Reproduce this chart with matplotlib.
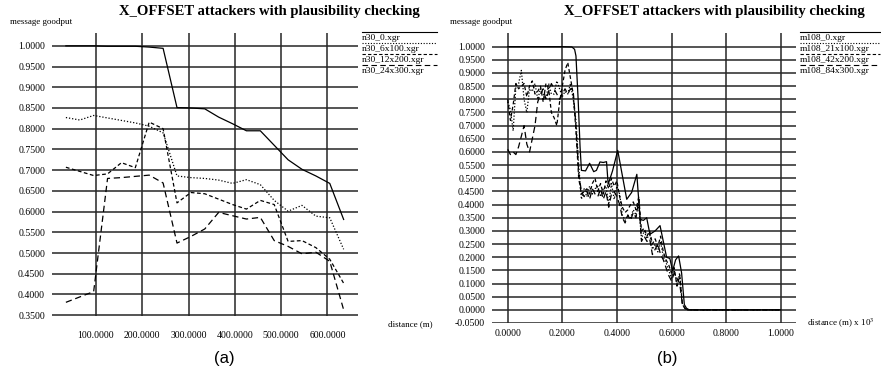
import numpy as np
import matplotlib
matplotlib.use("Agg")
import matplotlib.pyplot as plt
from matplotlib.lines import Line2D

plt.rcParams['font.family'] = ['Liberation Serif', 'DejaVu Serif']
plt.rcParams['mathtext.fontset'] = 'stix'

title = "X_OFFSET attackers with plausibility checking"

# ---- panel (a): n30 runs, distance in m
dist_a = np.arange(35, 636, 30)
n30_0 = [1.000, 1.000, 1.000, 0.999, 0.999, 0.999, 0.997, 0.994, 0.851, 0.850, 0.848,
         0.828, 0.812, 0.795, 0.795, 0.760, 0.725, 0.702, 0.686, 0.668, 0.581]
n30_6x100 = [0.827, 0.821, 0.832, 0.826, 0.820, 0.814, 0.806, 0.790, 0.686, 0.682, 0.680,
             0.676, 0.668, 0.677, 0.665, 0.627, 0.601, 0.615, 0.589, 0.585, 0.509]
n30_12x200 = [0.707, 0.697, 0.687, 0.691, 0.718, 0.706, 0.816, 0.800, 0.621, 0.646, 0.643,
              0.630, 0.617, 0.606, 0.627, 0.617, 0.528, 0.530, 0.513, 0.485, 0.427]
n30_24x300 = [0.381, 0.394, 0.407, 0.680, 0.682, 0.685, 0.688, 0.669, 0.524, 0.540, 0.558,
              0.598, 0.590, 0.582, 0.586, 0.530, 0.516, 0.498, 0.502, 0.480, 0.363]
labels_a = ["n30_0.xgr", "n30_6x100.xgr", "n30_12x200.xgr", "n30_24x300.xgr"]
yticks_a = np.round(np.arange(0.35, 1.001, 0.05), 2)
xticks_a = [100, 200, 300, 400, 500, 600]

# ---- panel (b): m108 runs, distance in km
x_m108_0 = [0.0, 0.05, 0.10, 0.15, 0.20, 0.235, 0.245, 0.25, 0.258, 0.265, 0.27, 0.285,
            0.30, 0.315, 0.325, 0.338, 0.35, 0.362, 0.368, 0.384, 0.403, 0.42, 0.436,
            0.454, 0.473, 0.485, 0.497, 0.509, 0.521, 0.54, 0.558, 0.57, 0.582, 0.594,
            0.604, 0.615, 0.626, 0.637, 0.647, 0.655, 0.665, 0.70, 0.80, 0.90, 1.0]
m108_0 = [1.0, 1.0, 1.0, 1.0, 1.0, 0.999, 0.99, 0.965, 0.80, 0.62, 0.53, 0.528,
          0.557, 0.525, 0.53, 0.562, 0.56, 0.563, 0.477, 0.528, 0.606, 0.51, 0.42,
          0.446, 0.515, 0.344, 0.34, 0.35, 0.287, 0.30, 0.32, 0.26, 0.20, 0.195,
          0.148, 0.19, 0.205, 0.14, 0.02, 0.006, 0.0, 0.0, 0.0, 0.0, 0.0]

x_noisy = np.concatenate([np.round(np.arange(0, 0.665, 0.01), 2), [0.70, 0.80, 0.90, 1.0]])
m108_21x100 = [0.79, 0.76, 0.68, 0.85, 0.86, 0.91, 0.80, 0.75, 0.84, 0.83,
               0.86, 0.80, 0.84, 0.82, 0.80, 0.86, 0.82, 0.82, 0.87, 0.84,
               0.81, 0.83, 0.82, 0.86, 0.80, 0.72, 0.55, 0.42, 0.46, 0.43,
               0.47, 0.44, 0.46, 0.47, 0.43, 0.46, 0.47, 0.40, 0.48, 0.42,
               0.47, 0.44, 0.36, 0.34, 0.36, 0.35, 0.38, 0.36, 0.40, 0.27,
               0.30, 0.27, 0.29, 0.23, 0.25, 0.22, 0.26, 0.20, 0.18, 0.15,
               0.12, 0.15, 0.10, 0.14, 0.02, 0.005, 0.0, 0.0, 0.0, 0.0, 0.0]
m108_42x200 = [0.80, 0.72, 0.78, 0.86, 0.84, 0.85, 0.86, 0.81, 0.85, 0.87,
               0.82, 0.83, 0.85, 0.79, 0.86, 0.84, 0.75, 0.73, 0.70, 0.79,
               0.85, 0.91, 0.94, 0.88, 0.82, 0.68, 0.50, 0.44, 0.45, 0.46,
               0.44, 0.48, 0.50, 0.45, 0.48, 0.44, 0.49, 0.46, 0.50, 0.47,
               0.49, 0.43, 0.39, 0.37, 0.38, 0.40, 0.41, 0.38, 0.43, 0.30,
               0.31, 0.28, 0.30, 0.25, 0.27, 0.24, 0.28, 0.22, 0.19, 0.17,
               0.14, 0.16, 0.09, 0.13, 0.02, 0.005, 0.0, 0.0, 0.0, 0.0, 0.0]
m108_84x300 = [0.61, 0.59, 0.60, 0.59, 0.62, 0.66, 0.70, 0.63, 0.60, 0.65,
               0.70, 0.79, 0.82, 0.84, 0.80, 0.83, 0.86, 0.84, 0.82, 0.80,
               0.82, 0.84, 0.82, 0.84, 0.83, 0.70, 0.52, 0.45, 0.43, 0.45,
               0.42, 0.46, 0.44, 0.43, 0.46, 0.42, 0.45, 0.39, 0.44, 0.45,
               0.43, 0.40, 0.35, 0.33, 0.36, 0.34, 0.37, 0.35, 0.42, 0.26,
               0.28, 0.26, 0.27, 0.21, 0.23, 0.25, 0.21, 0.19, 0.16, 0.13,
               0.11, 0.14, 0.12, 0.10, 0.02, 0.005, 0.0, 0.0, 0.0, 0.0, 0.0]
labels_b = ["m108_0.xgr", "m108_21x100.xgr", "m108_42x200.xgr", "m108_84x300.xgr"]
yticks_b = np.round(np.arange(-0.05, 1.001, 0.05), 2)
xticks_b = [0.0, 0.2, 0.4, 0.6, 0.8, 1.0]

styles = ['-', (0, (1, 1.5)), (0, (3, 2)), (0, (5, 3))]

W, H = 881, 376
fig = plt.figure(figsize=(W / 100, H / 100), dpi=100)


def px_axes(x0, y0, x1, y1):
    return fig.add_axes([x0 / W, 1 - y1 / H, (x1 - x0) / W, (y1 - y0) / H])


def style_axes(ax, xticks, yticks, xfmt, pad_x):
    ax.set_xticks(xticks)
    ax.set_yticks(yticks)
    ax.set_xticklabels([xfmt % v for v in xticks])
    ax.set_yticklabels(["%.4f" % v for v in yticks])
    ax.tick_params(length=0, labelsize=7)
    ax.tick_params(axis='y', pad=5)
    ax.tick_params(axis='x', pad=pad_x)
    for s in ax.spines.values():
        s.set_visible(False)
    ax.grid(True, color='0.15', linewidth=1.1)
    ax.set_axisbelow(True)


def legend(x0, x1, labels):
    ys = [32.3, 43.3, 54.3, 65.3]
    for yy, lab, ls in zip(ys, labels, styles):
        fig.add_artist(Line2D([x0 / W, x1 / W], [1 - yy / H, 1 - yy / H],
                              color='black', linewidth=0.8, linestyle=ls,
                              transform=fig.transFigure))
        fig.text(x0 / W, 1 - (yy + 7.5) / H, lab, fontsize=6.8, va='baseline', ha='left')


# panel (a)
ax1 = px_axes(52, 33, 358, 316)
for ys, ls in zip([n30_0, n30_6x100, n30_12x200, n30_24x300], styles):
    ax1.plot(dist_a, ys, color='black', linewidth=0.9, linestyle=ls)
ax1.set_xlim(5, 666)
ax1.set_ylim(0.348, 1.031)
style_axes(ax1, xticks_a, yticks_a, "%.4f", 11)
legend(362, 437, labels_a)
fig.text(269 / W, 1 - 12 / H, title, fontsize=10.5, fontweight='bold', ha='center', va='center')
fig.text(10 / W, 1 - 22 / H, "message goodput", fontsize=6.5, ha='left', va='center')
fig.text(388 / W, 1 - 324 / H, "distance (m)", fontsize=6.5, ha='left', va='center')
fig.text(224 / W, 1 - 358 / H, "(a)", fontsize=12, family='Liberation Sans', ha='center', va='center')

# panel (b)
ax2 = px_axes(492, 33, 796, 323)
ax2.plot(x_m108_0, m108_0, color='black', linewidth=0.9, linestyle=styles[0])
for ys, ls in zip([m108_21x100, m108_42x200, m108_84x300], styles[1:]):
    ax2.plot(x_noisy, ys, color='black', linewidth=0.9, linestyle=ls)
ax2.set_xlim(-0.0575, 1.056)
ax2.set_ylim(-0.05, 1.052)
style_axes(ax2, xticks_b, yticks_b, "%.4f", 4)
legend(800, 880, labels_b)
fig.text(714 / W, 1 - 12 / H, title, fontsize=10.5, fontweight='bold', ha='center', va='center')
fig.text(450 / W, 1 - 22 / H, "message goodput", fontsize=6.5, ha='left', va='center')
fig.text(807 / W, 1 - 323 / H, "distance (m) x 10$^{3}$", fontsize=6.5, ha='left', va='center')
fig.text(667 / W, 1 - 358 / H, "(b)", fontsize=12, family='Liberation Sans', ha='center', va='center')

fig.savefig("out.png", dpi=100)
